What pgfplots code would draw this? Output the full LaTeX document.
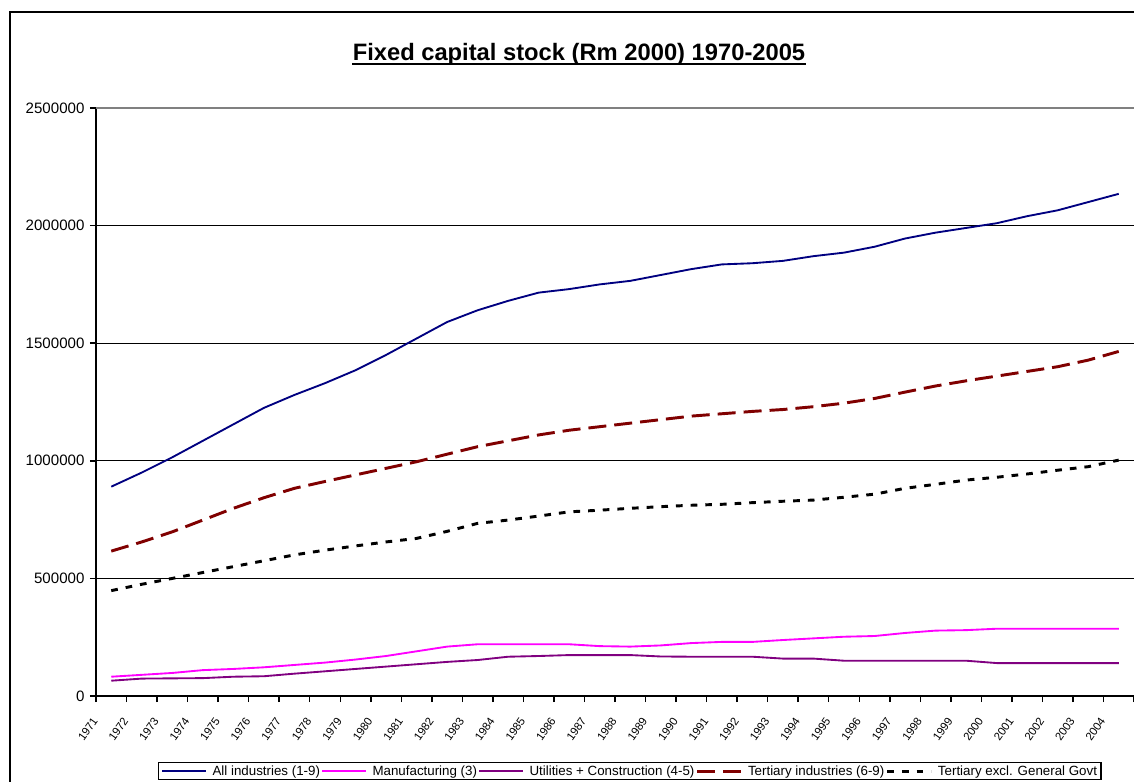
\documentclass[border=0pt]{standalone}
\usepackage{fontspec}
\setmainfont{Liberation Sans}
\usepackage{pgfplots}
\pgfplotsset{compat=1.18}
\usepackage{pgfplotstable}

\definecolor{cnavy}{HTML}{000080}
\definecolor{cmag}{HTML}{FF00FF}
\definecolor{cpur}{HTML}{800080}
\definecolor{cred}{HTML}{800000}

\pgfplotstableread{
i all manu util tert texcl
0 890000 82000 65000 616000 448000
1 950000 90000 74000 655000 475000
2 1015000 98000 75000 698000 500000
3 1085000 110000 76000 748000 525000
4 1155000 115000 82000 798000 550000
5 1225000 122000 84000 843000 575000
6 1280000 132000 95000 883000 600000
7 1330000 142000 105000 912000 620000
8 1385000 155000 115000 940000 638000
9 1450000 170000 125000 968000 655000
10 1520000 190000 135000 996000 670000
11 1590000 210000 145000 1028000 700000
12 1640000 220000 153000 1060000 734000
13 1680000 220000 167000 1085000 748000
14 1715000 220000 170000 1110000 765000
15 1730000 220000 174000 1130000 783000
16 1750000 212000 174000 1145000 790000
17 1765000 210000 174000 1160000 798000
18 1790000 215000 168000 1175000 805000
19 1815000 225000 167000 1190000 811000
20 1835000 230000 167000 1200000 815000
21 1840000 230000 167000 1210000 822000
22 1850000 238000 159000 1218000 828000
23 1870000 245000 159000 1230000 833000
24 1885000 252000 150000 1245000 845000
25 1910000 255000 150000 1265000 858000
26 1945000 268000 150000 1292000 883000
27 1970000 278000 150000 1318000 900000
28 1990000 280000 150000 1340000 918000
29 2010000 286000 140000 1360000 930000
30 2040000 286000 140000 1380000 944000
31 2065000 286000 140000 1400000 960000
32 2100000 286000 140000 1428000 975000
33 2135000 286000 140000 1465000 1003000
}\datatable

\begin{document}
\begin{tikzpicture}[x=0.75pt,y=0.75pt]
\path[use as bounding box] (0,0) rectangle (1134,781);
\draw[line width=1.4pt] (10,-20) -- (10,769) -- (1160,769);
\node[anchor=base, font=\fontsize{17.8}{20}\selectfont\bfseries, inner sep=0pt] (t) at (579,720) {Fixed capital stock (Rm 2000) 1970-2005};
\draw[line width=2pt] ([yshift=-2.3pt]t.base west) -- ([yshift=-2.3pt]t.base east);
\begin{axis}[
  at={(72pt,63.75pt)}, anchor=south west,
  scale only axis, width=778.5pt, height=441pt,
  xmin=-0.5, xmax=33.5, ymin=0, ymax=2500000,
  scaled y ticks=false,
  axis x line*=bottom, axis y line*=left,
  axis line style={line width=1.3pt},
  tick align=outside,
  major tick length=4.5pt,
  every tick/.style={black, line width=1.1pt},
  xtick={-0.5,0.5,...,33.5},
  xticklabels={},
  extra x ticks={0,1,...,33},
  extra x tick labels={1971,1972,1973,1974,1975,1976,1977,1978,1979,1980,1981,1982,1983,1984,1985,1986,1987,1988,1989,1990,1991,1992,1993,1994,1995,1996,1997,1998,1999,2000,2001,2002,2003,2004},
  extra x tick style={major tick length=0pt, xticklabel style={xshift=-12pt, yshift=-17pt, rotate=55, anchor=east, inner sep=0pt, font=\fontsize{8.5}{9}\selectfont}},
  ytick={0,500000,1000000,1500000,2000000},
  yticklabels={0,500000,1000000,1500000,2000000},
  extra y ticks={2500000},
  extra y tick labels={2500000},
  extra y tick style={grid style={gray, line width=1.5pt}},
  yticklabel style={font=\fontsize{11.3}{12}\selectfont, inner sep=0pt, xshift=-4pt},
  ymajorgrids,
  grid style={black, line width=0.9pt},
  clip=false,
  legend columns=5,
  legend style={at={(0.0597,-0.1122)}, anchor=north west, draw=black, line width=1.1pt,
    font=\fontsize{10}{12}\selectfont, inner xsep=2pt, inner ysep=1pt,
    /tikz/every odd column/.append style={column sep=3pt},
    nodes={inner sep=1pt}},
  legend image code/.code={\draw[#1] (0pt,0pt) -- (33pt,0pt);},
]
\addplot[cnavy, line width=1.4pt] table[x=i, y=all] {\datatable};
\addlegendentry{All industries (1-9)}
\addplot[cmag, line width=1.4pt] table[x=i, y=manu] {\datatable};
\addlegendentry{Manufacturing (3)}
\addplot[cpur, line width=1.4pt] table[x=i, y=util] {\datatable};
\addlegendentry{Utilities + Construction (4-5)}
\addplot[cred, line width=2.2pt, dash pattern=on 13.5pt off 6pt] table[x=i, y=tert] {\datatable};
\addlegendentry{Tertiary industries (6-9)}
\addplot[black, line width=2.2pt, dash pattern=on 5pt off 6pt] table[x=i, y=texcl] {\datatable};
\addlegendentry{Tertiary excl. General Govt}
\end{axis}
\end{tikzpicture}
\end{document}
